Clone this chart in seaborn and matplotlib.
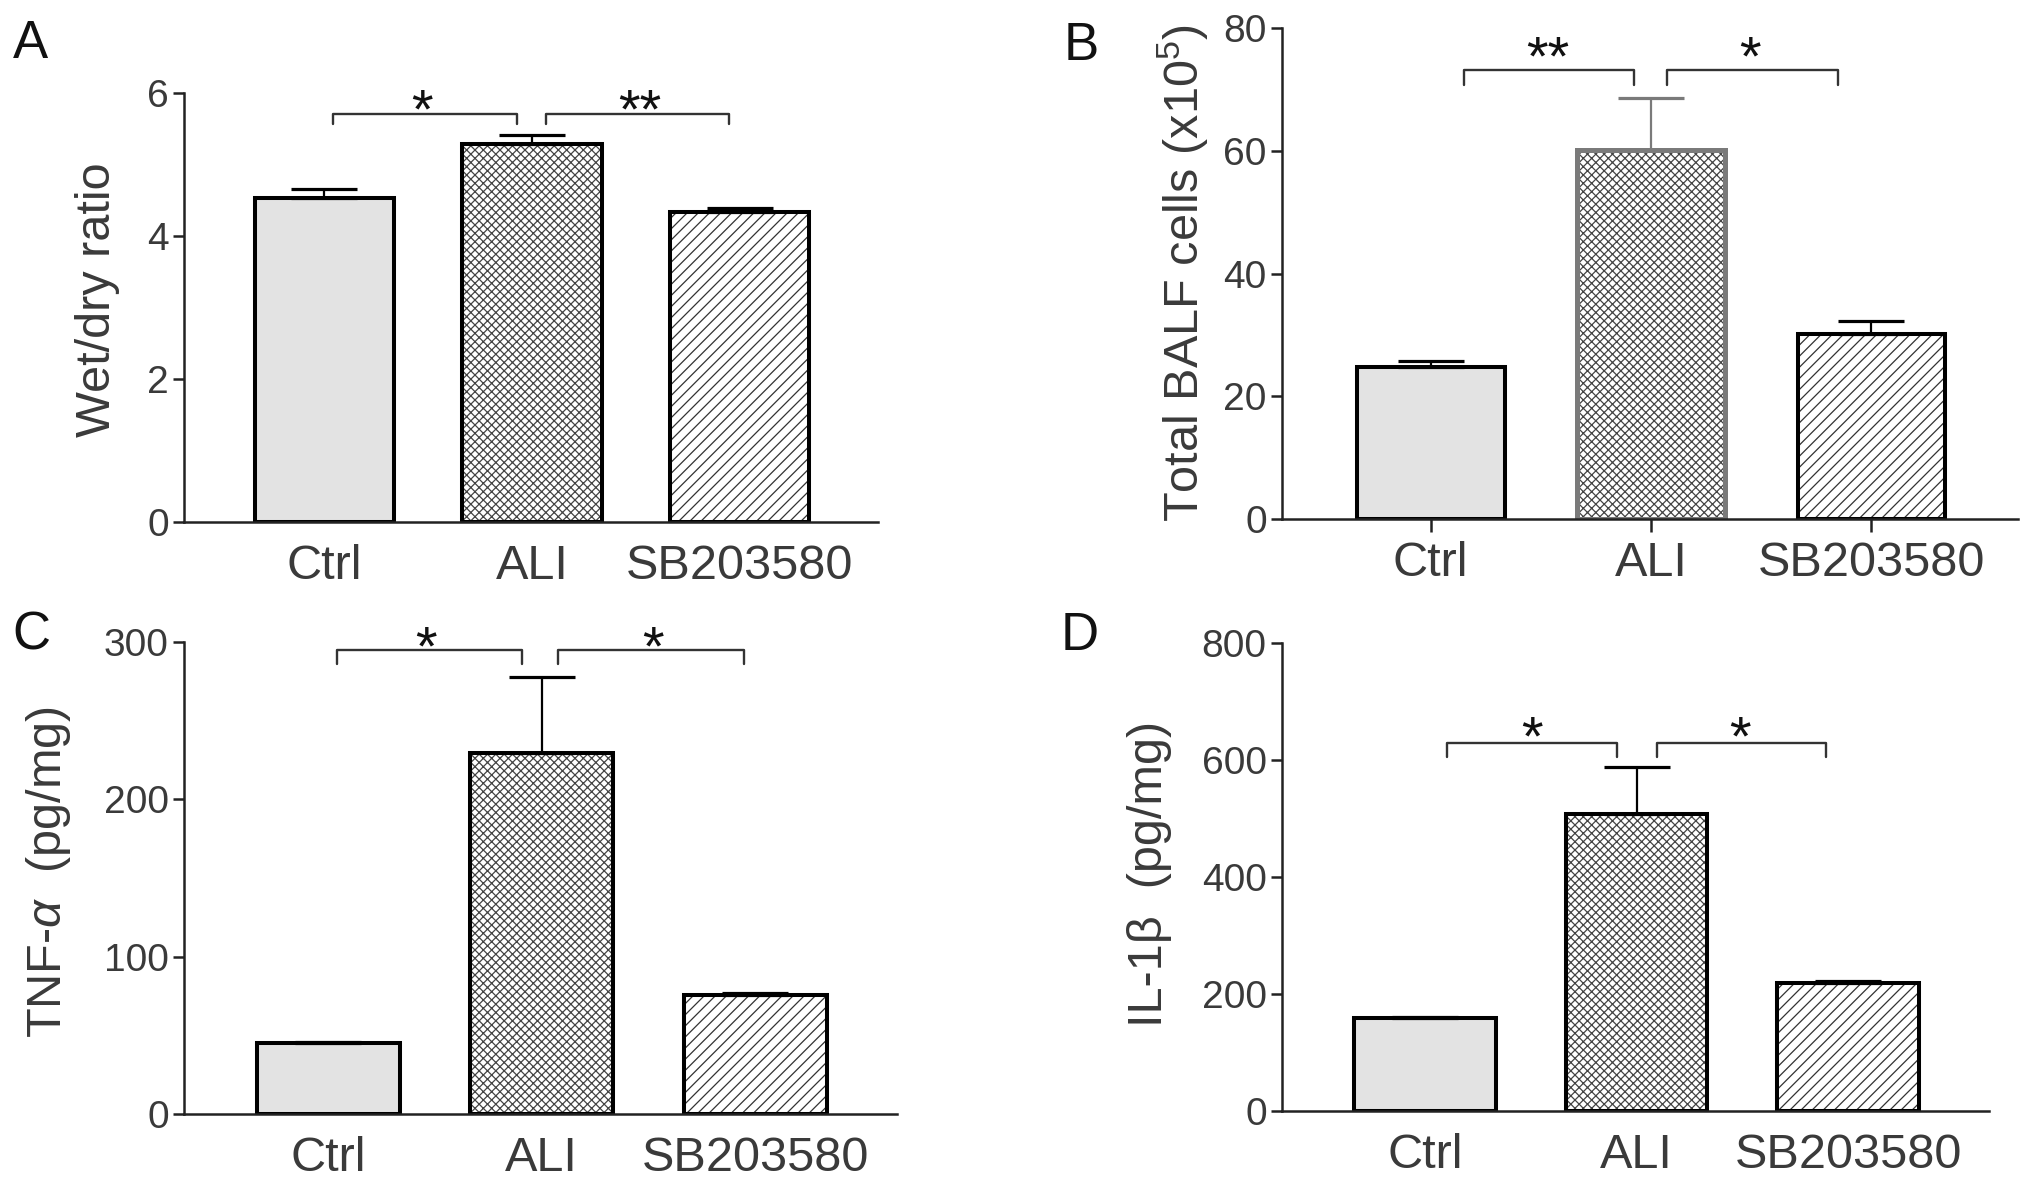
import matplotlib
matplotlib.use("Agg")
import matplotlib.pyplot as plt
from matplotlib.patches import Rectangle
import seaborn as sns
import numpy as np
import pandas as pd

# ---------------- data ----------------
groups = ["Ctrl", "ALI", "SB203580"]

wet_dry_mean = [4.53, 5.29, 4.34]
wet_dry_sem = [0.13, 0.12, 0.05]

balf_mean = [24.7, 60.2, 30.1]
balf_sem = [1.1, 8.4, 2.1]

tnf_mean = [45.4, 229.5, 75.6]
tnf_sem = [0.6, 48.4, 1.2]

il1b_mean = [159, 508, 219]
il1b_sem = [1.0, 80, 3]

sig_A = ["*", "**"]
sig_B = ["**", "*"]
sig_C = ["*", "*"]
sig_D = ["*", "*"]

yticks_A = [0, 2, 4, 6]
yticks_B = [0, 20, 40, 60, 80]
yticks_C = [0, 100, 200, 300]
yticks_D = [0, 200, 400, 600, 800]

# ---------------- style ----------------
sns.set_style("ticks")
plt.rcParams["font.family"] = ["Liberation Sans", "DejaVu Sans"]
plt.rcParams["mathtext.fontset"] = "custom"
plt.rcParams["mathtext.rm"] = "Liberation Sans"
plt.rcParams["mathtext.it"] = "Liberation Sans:italic"
plt.rcParams["mathtext.default"] = "regular"
plt.rcParams["hatch.linewidth"] = 0.9

TEXT = "#3a3a3a"
AXC = "#222222"
W, H = 2031, 1186

fig = plt.figure(figsize=(W / 100, H / 100), dpi=100)


def add_ax(l, r, t, b):
    return fig.add_axes([l / W, 1 - b / H, (r - l) / W, (b - t) / H])


def panel(ax, means, sems, yticks, sig, brackets, star_y, star_x, xtick_len=0,
          ali_gray=False):
    df = pd.DataFrame({"group": groups, "value": means})
    sns.barplot(data=df, x="group", y="value", hue="group",
                palette=["#e3e3e3", "white", "white"], saturation=1,
                legend=False, width=0.67, errorbar=None, ax=ax)
    hatches = ["", "xxxx", "///"]
    hatch_cols = ["#e3e3e3", "#444444", "#333333"]
    edge_cols = ["black", "#7a7a7a" if ali_gray else "black", "black"]
    edge_lw = [2.9, 3.6 if ali_gray else 2.9, 2.9]
    for i, p in enumerate(ax.patches[:3]):
        p.set_hatch(hatches[i])
        p.set_edgecolor(hatch_cols[i])
        p.set_linewidth(0)
        ax.add_patch(Rectangle(p.get_xy(), p.get_width(), p.get_height(),
                               fill=False, edgecolor=edge_cols[i],
                               lw=edge_lw[i], zorder=p.get_zorder() + 0.1))
    xs = np.arange(len(groups))
    for i in range(len(groups)):
        c = edge_cols[i]
        ax.errorbar(xs[i], means[i], yerr=[[0], [sems[i]]], fmt="none",
                    ecolor=c, elinewidth=1.6, capsize=24, capthick=2.3,
                    zorder=3)
    # significance brackets
    for (x0, x1, yh, yl), s, sx in zip(brackets, sig, star_x):
        ax.plot([x0, x0, x1, x1], [yl, yh, yh, yl], color="#333333", lw=1.7,
                clip_on=False, zorder=4)
        fs = 40
        ax.annotate(s, (sx, star_y), xytext=(0, -0.6 * fs),
                    textcoords="offset points", ha="center", va="baseline",
                    fontsize=fs, color="#111111", annotation_clip=False)
    ax.set_xlim(-0.675, 2.665)
    ax.set_ylim(yticks[0], yticks[-1])
    ax.set_yticks(yticks)
    ax.set_xlabel("")
    ax.set_ylabel("")
    sns.despine(ax=ax)
    for sp in ("left", "bottom"):
        ax.spines[sp].set_linewidth(1.8)
        ax.spines[sp].set_color(AXC)
    ax.tick_params(axis="y", length=8, width=1.8, pad=3, labelsize=28,
                   labelcolor=TEXT, color=AXC)
    ax.tick_params(axis="x", length=xtick_len, width=1.8,
                   pad=16 - xtick_len, labelsize=35, labelcolor=TEXT,
                   color=AXC)


axA = add_ax(184, 878, 93, 522)
panel(axA, wet_dry_mean, wet_dry_sem, yticks_A, sig_A,
      [(0.04, 0.93, 5.70, 5.57), (1.065, 1.95, 5.70, 5.57)],
      5.98, [0.47, 1.52])

axB = add_ax(1282, 2018, 28, 519)
panel(axB, balf_mean, balf_sem, yticks_B, sig_B,
      [(0.15, 0.924, 73.2, 70.7), (1.07, 1.85, 73.2, 70.7)],
      77.8, [0.53, 1.45], xtick_len=9, ali_gray=True)

axC = add_ax(184, 897, 642, 1114)
panel(axC, tnf_mean, tnf_sem, yticks_C, sig_C,
      [(0.044, 0.91, 294.8, 286.3), (1.077, 1.95, 294.8, 286.3)],
      306.8, [0.46, 1.52])

axD = add_ax(1282, 1989, 643, 1111)
panel(axD, il1b_mean, il1b_sem, yticks_D, sig_D,
      [(0.105, 0.907, 629.4, 605.5), (1.098, 1.894, 629.4, 605.5)],
      667, [0.507, 1.487])

# y labels
ylabels = [
    ("Wet/dry ratio", 98, 300),
    ("Total BALF cells (x10$^5$)", 1183, 273),
    ("TNF-$\\mathit{\\alpha}$  (pg/mg)", 49, 872),
    ("IL-1β  (pg/mg)", 1150, 874),
]
for txt, x, y in ylabels:
    fig.text(x / W, 1 - y / H, txt, rotation=90, ha="center", va="center",
             fontsize=35, color=TEXT)

# panel letters
for letter, x, y in [("A", 30, 58), ("B", 1081, 60), ("C", 31, 650),
                     ("D", 1080, 650)]:
    fig.text(x / W, 1 - y / H, letter, ha="center", va="baseline",
             fontsize=38, color="#111111")

fig.savefig("out.png", dpi=100)
